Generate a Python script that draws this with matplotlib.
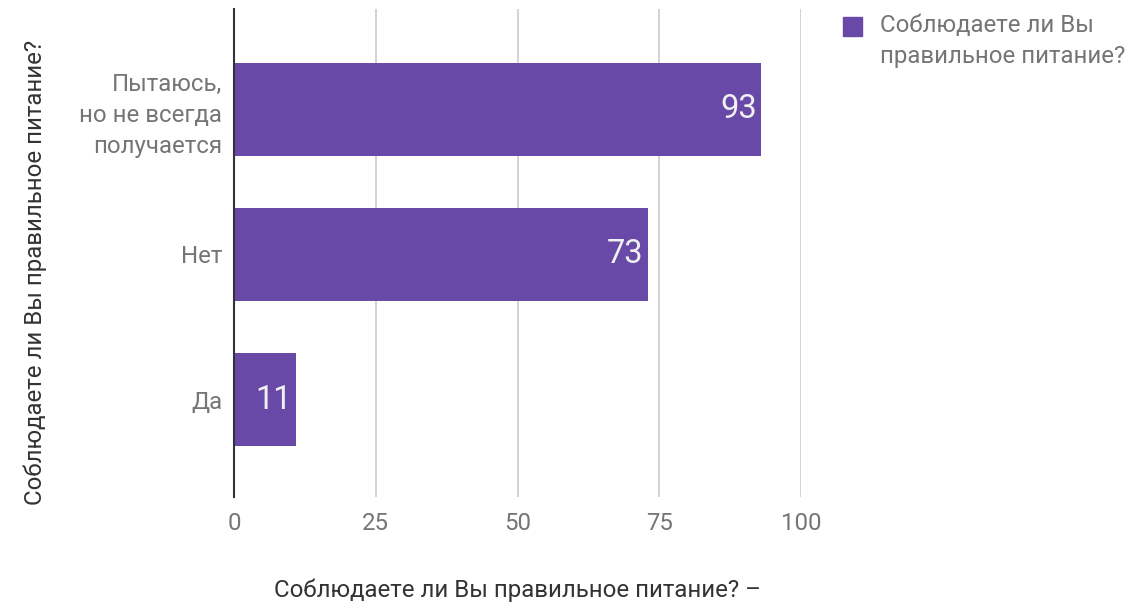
import matplotlib
matplotlib.use("Agg")
import matplotlib.pyplot as plt
from matplotlib.patches import Rectangle

plt.rcParams['font.family'] = ['Roboto', 'DejaVu Sans']

categories = ["Пытаюсь,\nно не всегда\nполучается", "Нет", "Да"]
values = [93, 73, 11]
xticks = [0, 25, 50, 75, 100]
series_name = "Соблюдаете ли Вы\nправильное питание?"
y_title = "Соблюдаете ли Вы правильное питание?"
x_title = "Соблюдаете ли Вы правильное питание? –"

bar_color = "#6849a7"
grid_color = "#cccccc"
label_color = "#757575"
title_color = "#333333"
FS = 17.3

fig = plt.figure(figsize=(11.35, 6.05), dpi=100)
ax = fig.add_axes([234/1135, 1-497/605, (801-234)/1135, (497-9)/605])

pos = list(range(len(categories)))
ax.barh(pos, values, height=0.64, color=bar_color, zorder=3)
ax.set_xlim(0, 100)
ax.set_ylim(2.67, -0.69)

ax.set_xticks(xticks)
ax.set_xticklabels([str(t) for t in xticks])
ax.set_yticks(pos)
ax.set_yticklabels(categories, linespacing=1.45)
ax.tick_params(axis='both', length=0, labelsize=FS, colors=label_color)
ax.tick_params(axis='x', pad=11)
ax.tick_params(axis='y', pad=8.5)
for lab in ax.get_yticklabels():
    lab.set_horizontalalignment('right')
    lab.set_multialignment('right')

ax.grid(axis='x', color=grid_color, linewidth=1.2, zorder=0)
for s in ['top', 'right', 'bottom']:
    ax.spines[s].set_visible(False)
ax.spines['left'].set_color('#333333')
ax.spines['left'].set_linewidth(1.5)
ax.spines['left'].set_zorder(4)

for p, v in zip(pos, values):
    ax.text(v - 0.8, p, str(v), ha='right', va='center', color='#f0f0f0',
            fontsize=23.5, zorder=5)

fig.text(35/1135, 1-272/605, y_title, rotation=90, ha='center', va='center',
         fontsize=FS, color=title_color)
fig.text(517/1135, 1-590/605, x_title, ha='center', va='center',
         fontsize=FS, color=title_color)

# legend
fig.patches.append(Rectangle((843/1135, 1-36/605), 19/1135, 19/605,
                             transform=fig.transFigure, color=bar_color,
                             figure=fig))
fig.text(880/1135, 1-14/605, series_name, ha='left', va='top', fontsize=FS,
         color=label_color, linespacing=1.42)

fig.savefig("out.png", dpi=100)
